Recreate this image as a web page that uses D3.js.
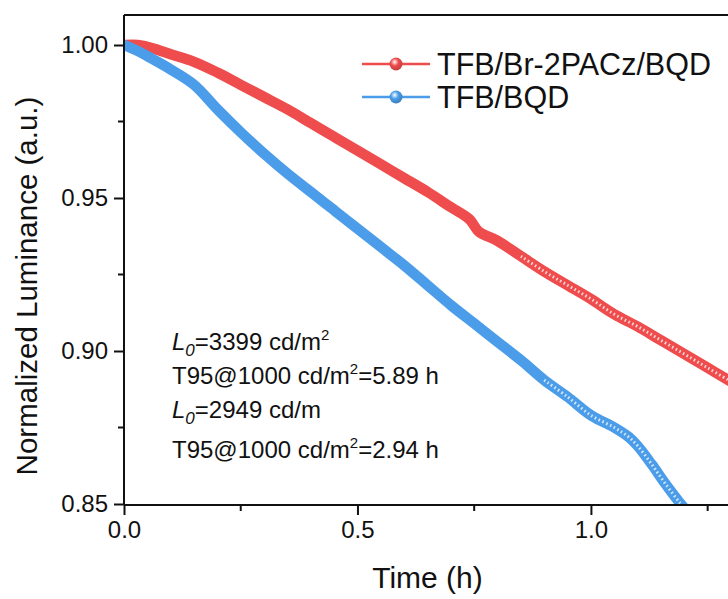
<!DOCTYPE html>
<html lang="en">
<head>
  <meta charset="UTF-8">
  <title>luminance decay</title>
  <script src="https://d3js.org/d3.v7.min.js"></script>
  <style>
    body {
      margin: 0;
      padding: 0;
      background: #fff;
    }
    #chart {
      width: 728px;
      height: 599px;
    }
    text {
      font-family: Arial, 'Liberation Sans', sans-serif;
      fill: #111;
    }
  </style>
</head>
<body>
  <div id="chart"></div>
</body>
<script>
  const redTime = [0, 0.03, 0.06, 0.10, 0.15, 0.20, 0.25, 0.30, 0.35, 0.40, 0.45, 0.50, 0.55, 0.60, 0.65, 0.70, 0.74, 0.76, 0.80, 0.85, 0.90, 0.95, 1.00, 1.05, 1.10, 1.15, 1.20, 1.25, 1.30]
  const redLum = [1.000, 1.000, 0.999, 0.997, 0.9945, 0.991, 0.987, 0.983, 0.979, 0.9745, 0.970, 0.9655, 0.961, 0.9565, 0.952, 0.947, 0.943, 0.939, 0.936, 0.931, 0.926, 0.9215, 0.917, 0.912, 0.908, 0.9035, 0.899, 0.8945, 0.890]

  const blueTime = [0, 0.03, 0.06, 0.10, 0.15, 0.20, 0.25, 0.30, 0.35, 0.40, 0.45, 0.50, 0.55, 0.60, 0.65, 0.70, 0.75, 0.80, 0.85, 0.90, 0.95, 1.00, 1.05, 1.08, 1.10, 1.13, 1.16, 1.19, 1.21]
  const blueLum = [1.000, 0.998, 0.9955, 0.992, 0.987, 0.979, 0.9715, 0.9645, 0.958, 0.952, 0.946, 0.940, 0.934, 0.928, 0.9215, 0.915, 0.909, 0.903, 0.897, 0.8905, 0.885, 0.879, 0.875, 0.872, 0.869, 0.863, 0.8565, 0.8505, 0.847]

  const seriesNames = ['TFB/Br-2PACz/BQD', 'TFB/BQD']
  const seriesColors = ['#ef4d4d', '#4b9de9']
  // time after which the single markers become visible
  const sparseFrom = [0.84, 0.88]

  const xTicks = [0, 0.5, 1.0]
  const xMinor = [0.25, 0.75, 1.25]
  const yTicks = [0.85, 0.90, 0.95, 1.00]
  const yMinor = [0.875, 0.925, 0.975]

  const width = 728
  const height = 599
  const box = { left: 124, right: 731, top: 15, bottom: 505 }

  const x = d3.scaleLinear().domain([0, 1.3]).range([box.left, box.right])
  const y = d3.scaleLinear().domain([0.85, 1.00]).range([504, 45])

  const svg = d3.select('#chart')
    .append('svg')
    .attr('width', width)
    .attr('height', height)

  const defs = svg.append('defs')
  defs.append('clipPath').attr('id', 'plotClip')
    .append('rect')
    .attr('x', box.left + 1)
    .attr('y', box.top)
    .attr('width', box.right - box.left)
    .attr('height', box.bottom - box.top - 1)

  seriesColors.forEach((c, i) => {
    const g = defs.append('radialGradient')
      .attr('id', 'ball' + i)
      .attr('cx', '40%').attr('cy', '35%').attr('r', '65%')
    g.append('stop').attr('offset', '0%').attr('stop-color', '#fff')
    g.append('stop').attr('offset', '45%').attr('stop-color', c)
    g.append('stop').attr('offset', '100%').attr('stop-color', d3.color(c).darker(0.6))
  })

  const series = [
    { name: seriesNames[0], color: seriesColors[0], from: sparseFrom[0], pts: redTime.map((t, i) => [t, redLum[i]]) },
    { name: seriesNames[1], color: seriesColors[1], from: sparseFrom[1], pts: blueTime.map((t, i) => [t, blueLum[i]]) }
  ]

  const line = d3.line()
    .x(d => x(d[0]))
    .y(d => y(d[1]))
    .curve(d3.curveCatmullRom)

  const plot = svg.append('g').attr('clip-path', 'url(#plotClip)')

  // thick band of overlapping markers
  plot.selectAll('path.band')
    .data(series)
    .join('path')
    .attr('class', 'band')
    .attr('d', d => line(d.pts))
    .attr('fill', 'none')
    .attr('stroke', d => d.color)
    .attr('stroke-width', 10.5)
    .attr('stroke-linecap', 'round')
    .attr('stroke-linejoin', 'round')

  // where the markers thin out their light centres show through
  plot.selectAll('path.dots')
    .data(series)
    .join('path')
    .attr('class', 'dots')
    .attr('d', d => line(d.pts.filter(p => p[0] >= d.from)))
    .attr('fill', 'none')
    .attr('stroke', '#fff')
    .attr('stroke-opacity', 0.75)
    .attr('stroke-width', 3)
    .attr('stroke-dasharray', '1.6 2.6')

  // frame
  const axisColor = '#111'
  svg.append('line')
    .attr('x1', box.left).attr('x2', box.right)
    .attr('y1', box.top).attr('y2', box.top)
    .attr('stroke', axisColor).attr('stroke-width', 2)
  svg.append('line')
    .attr('x1', box.right).attr('x2', box.right)
    .attr('y1', box.top).attr('y2', box.bottom)
    .attr('stroke', axisColor).attr('stroke-width', 2)

  // x axis
  const xAxis = svg.append('g')
    .attr('transform', `translate(0,${box.bottom})`)
    .call(d3.axisBottom(x).tickValues(xTicks).tickFormat(d3.format('.1f')).tickSize(10).tickSizeOuter(0).tickPadding(6))
  xAxis.append('g')
    .selectAll('line')
    .data(xMinor)
    .join('line')
    .attr('x1', d => x(d)).attr('x2', d => x(d))
    .attr('y1', 0).attr('y2', 6)
    .attr('stroke', axisColor).attr('stroke-width', 2)

  // y axis
  const yAxis = svg.append('g')
    .attr('transform', `translate(${box.left},0)`)
    .call(d3.axisLeft(y).tickValues(yTicks).tickFormat(d3.format('.2f')).tickSize(10).tickSizeOuter(0).tickPadding(6))
  yAxis.append('g')
    .selectAll('line')
    .data(yMinor)
    .join('line')
    .attr('x1', 0).attr('x2', -6)
    .attr('y1', d => y(d)).attr('y2', d => y(d))
    .attr('stroke', axisColor).attr('stroke-width', 2)

  svg.selectAll('.domain').attr('stroke', axisColor).attr('stroke-width', 2)
  svg.selectAll('.tick line').attr('stroke', axisColor).attr('stroke-width', 2)
  svg.selectAll('.tick text').attr('font-size', 24).attr('fill', '#111')
  // extend axis lines to the frame
  yAxis.select('.domain').attr('d', `M0,${box.top}V${box.bottom}`)
  xAxis.select('.domain').attr('d', `M${box.left},0H${box.right}`)

  // axis titles
  svg.append('text')
    .attr('x', (box.left + box.right) / 2)
    .attr('y', 588)
    .attr('text-anchor', 'middle')
    .attr('font-size', 30)
    .text('Time (h)')

  svg.append('text')
    .attr('transform', `translate(37,${(box.top + box.bottom) / 2 + 26}) rotate(-90)`)
    .attr('text-anchor', 'middle')
    .attr('font-size', 29.5)
    .text('Normalized Luminance (a.u.)')

  // legend
  const legend = svg.append('g')
  series.forEach((s, i) => {
    const ly = 64 + i * 33
    legend.append('line')
      .attr('x1', 362).attr('x2', 430)
      .attr('y1', ly).attr('y2', ly)
      .attr('stroke', s.color).attr('stroke-width', 2.5)
    legend.append('circle')
      .attr('cx', 396).attr('cy', ly).attr('r', 6.5)
      .attr('fill', `url(#ball${i})`)
    legend.append('text')
      .attr('x', 437).attr('y', ly + 11)
      .attr('font-size', 30.5)
      .text(s.name)
  })

  // annotations
  const note = svg.append('g').attr('font-size', 24)
  function lumLine(yy, val) {
    const t = note.append('text').attr('x', 172).attr('y', yy)
    t.append('tspan').attr('font-style', 'italic').text('L')
    t.append('tspan').attr('font-style', 'italic').attr('font-size', 17).attr('dy', 6).text('0')
    t.append('tspan').attr('dy', -6).text('=' + val + ' cd/m')
    return t
  }
  function t95Line(yy, val) {
    const t = note.append('text').attr('x', 172).attr('y', yy)
    t.append('tspan').text('T95@1000 cd/m')
    t.append('tspan').attr('font-size', 15).attr('dy', -10).text('2')
    t.append('tspan').attr('dy', 10).text('=' + val + ' h')
  }
  const l1 = lumLine(350, '3399')
  l1.append('tspan').attr('font-size', 15).attr('dy', -10).text('2')
  t95Line(384, '5.89')
  lumLine(418, '2949')
  t95Line(458, '2.94')
</script>
</html>
